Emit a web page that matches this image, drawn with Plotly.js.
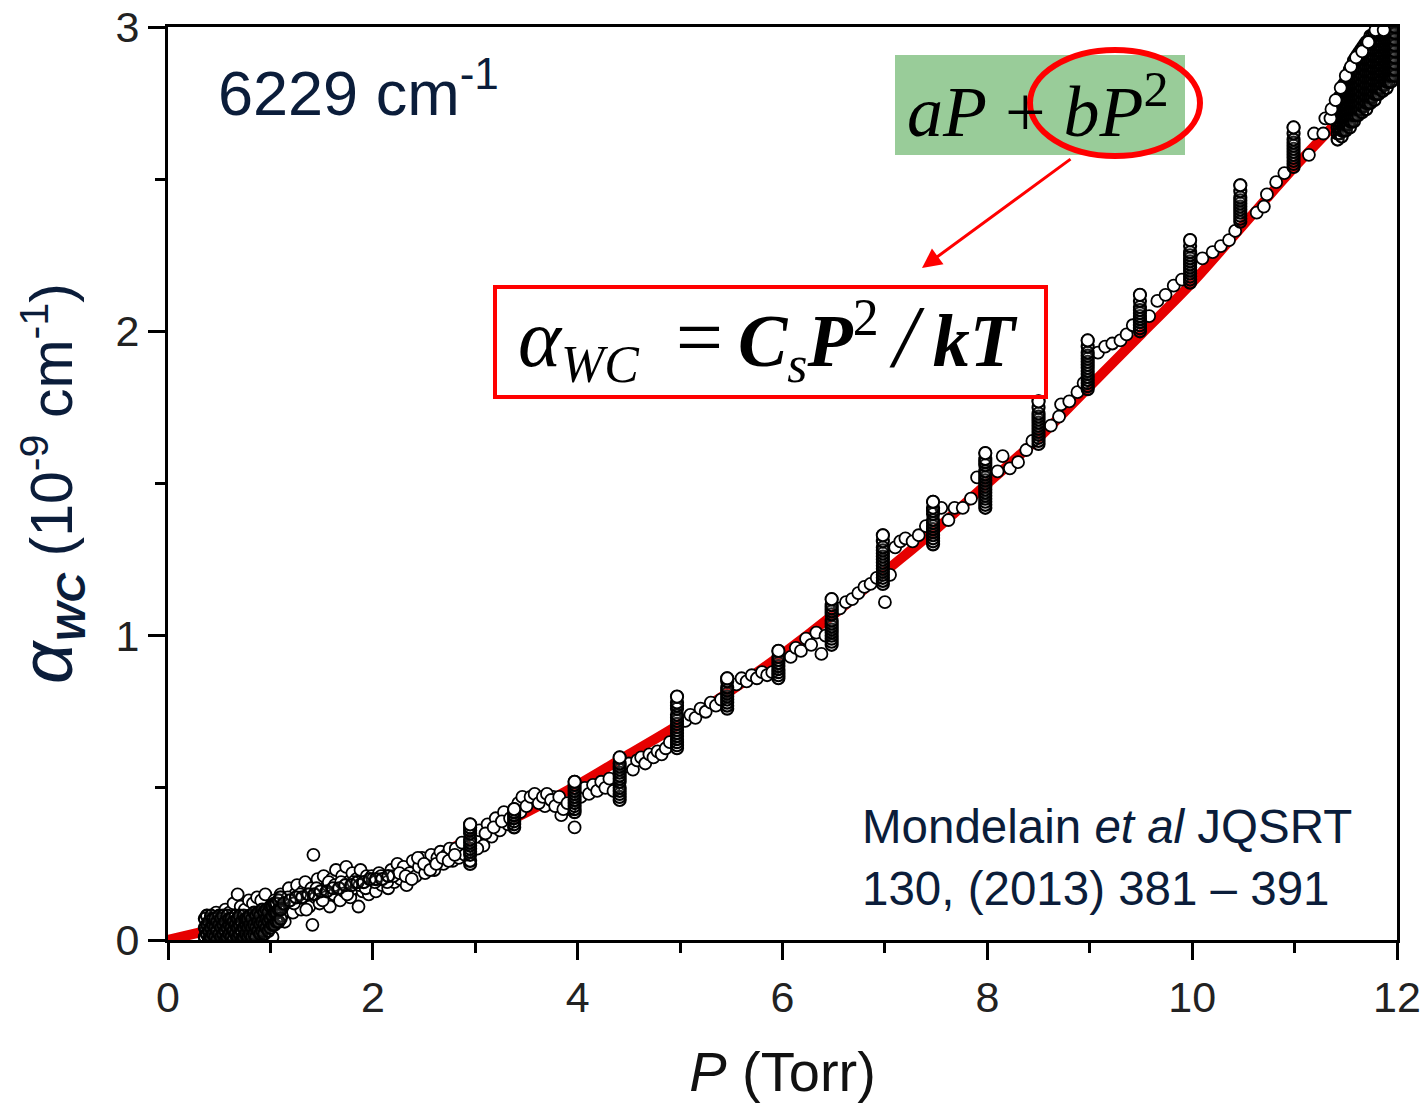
<!DOCTYPE html>
<html>
<head>
<meta charset="utf-8">
<script src="https://cdn.plot.ly/plotly-3.0.1.min.js"></script>
<style>html,body{margin:0;padding:0;background:#fff;}#chart{width:1427px;height:1103px;}</style>
</head>
<body>
<div id="chart"></div>
<script>
// ---- Fitted curve aP + bP^2 ----
const fitP     = [0, 0.5, 1, 1.5, 2, 2.5, 3, 3.5, 4, 4.5, 5, 5.5, 6, 6.5, 7, 7.5, 8, 8.5, 9, 9.5, 10, 10.5, 11, 11.5, 12];
const fitAlpha = [0, 0.04, 0.08, 0.14, 0.20, 0.26, 0.34, 0.42, 0.51, 0.61, 0.71, 0.82, 0.94, 1.07, 1.21, 1.35, 1.50, 1.65, 1.82, 1.99, 2.16, 2.35, 2.54, 2.72, 2.92];

// ---- Measured points (P in Torr, alpha in 1e-9 cm-1), read from the figure ----
// dense block at the lowest pressures (columns of overlapping circles)
const lowP = [0.36,0.38,0.40,0.42,0.44,0.46,0.48,0.50,0.52,0.54,0.56,0.58,0.60,0.62,0.64,0.66,0.68,0.70,0.72,
              0.74,0.76,0.78,0.80,0.82,0.84,0.86,0.88,0.90,0.92,0.94,0.96,0.98,1.00,1.02,1.04,1.06,1.08,1.10];
const lowAlpha = [[0.01,0.04,0.07],[0.02,0.05,0.08],[0.00,0.03,0.06],[0.01,0.04,0.08],[0.02,0.05,0.07],[0.01,0.04,0.07],
                  [0.00,0.03,0.06],[0.02,0.05,0.08],[0.01,0.04,0.07],[0.02,0.05,0.08],[0.00,0.03,0.06],[0.01,0.04,0.08],
                  [0.02,0.05,0.07],[0.01,0.04,0.07],[0.00,0.03,0.06],[0.02,0.05,0.08],[0.01,0.04,0.07],[0.02,0.05,0.08],
                  [0.00,0.03,0.06],[0.01,0.04,0.08],[0.02,0.05,0.07],[0.01,0.04,0.07],[0.02,0.05,0.08],[0.01,0.04,0.07],
                  [0.02,0.05,0.09],[0.01,0.04,0.08],[0.03,0.06,0.09],[0.02,0.05,0.08],[0.03,0.06,0.10],[0.02,0.05,0.09],
                  [0.04,0.07,0.10],[0.03,0.06,0.09],[0.04,0.07,0.11],[0.05,0.08,0.11],[0.05,0.09,0.12],[0.06,0.09,0.12],
                  [0.06,0.10,0.13],[0.07,0.10,0.14]];

// individual points between the pressure steps
const pA = [0.36,0.37,0.38,0.39,0.40,0.41,0.42,0.43,0.44,0.45,0.46,0.47,0.48,0.49,0.50,0.51,0.52,0.53,0.54,0.55,0.56,0.57,0.58,0.59,0.60,0.61,0.62,0.63,0.64,0.65,0.66,0.67,0.68,0.69,0.70,0.72,0.74,0.76,0.78,0.80,0.82,0.84,0.86,0.88,0.90,0.92,0.94,0.96,0.98,1.00,
            0.38,0.42,0.47,0.52,0.56,0.60,0.64,0.68,0.71,0.75,0.79,0.83,0.87,0.91,0.95,0.99,1.02,0.93,0.85,0.77];
const aA = [0.01,0.03,0.02,0.05,0.01,0.04,0.02,0.06,0.03,0.01,0.05,0.02,0.04,0.07,0.02,0.03,0.05,0.01,0.06,0.03,0.04,0.02,0.07,0.05,0.03,0.06,0.02,0.04,0.08,0.05,0.03,0.07,0.04,0.06,0.09,0.05,0.07,0.04,0.08,0.06,0.09,0.07,0.10,0.06,0.08,0.11,0.07,0.09,0.12,0.08,
            0.08,0.07,0.09,0.08,0.10,0.09,0.12,0.15,0.11,0.10,0.13,0.12,0.14,0.13,0.15,0.10,0.01,0.03,0.02,0.01];

const pB = [1.02,1.04,1.06,1.08,1.10,1.12,1.14,1.16,1.18,1.20,1.22,1.24,1.26,1.28,1.30,1.32,1.34,1.36,1.38,1.40,1.42,1.41,
            1.44,1.46,1.48,1.50,1.52,1.54,1.56,1.58,1.60,1.62,1.64,1.66,1.68,1.70,1.72,1.74,1.76,1.78,1.80,1.82,1.84,1.86,1.88,1.90,1.92,1.94,1.96,1.98,
            1.05,1.11,1.17,1.23,1.29,1.35,1.45,1.51,1.57,1.63,1.69,1.75,1.81,1.87,1.93,1.99];
const aB = [0.09,0.13,0.07,0.11,0.15,0.10,0.06,0.13,0.17,0.11,0.09,0.15,0.18,0.12,0.10,0.16,0.19,0.13,0.11,0.17,0.28,0.05,
            0.14,0.20,0.12,0.16,0.21,0.14,0.18,0.11,0.20,0.15,0.23,0.17,0.13,0.21,0.16,0.24,0.19,0.14,0.22,0.17,0.20,0.11,0.23,0.16,0.19,0.21,0.15,0.18,
            0.12,0.08,0.14,0.12,0.15,0.10,0.17,0.13,0.19,0.18,0.19,0.15,0.19,0.18,0.17,0.21];
// darker core of the 1 - 2 Torr band
const pBcore = [1.13,1.19,1.25,1.31,1.37,1.43,1.49,1.55,1.61,1.67,1.73,1.79,1.85,1.91,1.97,2.03,2.09,2.15];
const aBcore = [0.12,0.13,0.14,0.14,0.15,0.15,0.16,0.16,0.17,0.17,0.18,0.18,0.19,0.19,0.20,0.20,0.20,0.21];

const pC = [2.00,2.03,2.06,2.09,2.12,2.15,2.18,2.21,2.24,2.27,2.30,2.33,2.36,2.39,2.42,2.45,2.48,2.51,2.54,2.57,2.60,2.63,2.66,2.69,2.72,2.75,2.78,2.81,2.84,2.87,2.90,
            2.02,2.08,2.14,2.20,2.26,2.32,2.38,2.44,2.50,2.56,2.62,2.68,2.74,2.80];
const aC = [0.20,0.16,0.22,0.18,0.21,0.17,0.23,0.19,0.25,0.20,0.24,0.18,0.22,0.26,0.21,0.24,0.27,0.22,0.25,0.28,0.23,0.27,0.29,0.25,0.28,0.30,0.26,0.30,0.27,0.32,0.28,
            0.19,0.21,0.19,0.21,0.22,0.21,0.20,0.27,0.25,0.23,0.25,0.27,0.26,0.28];

const pD = [3.00,3.04,3.08,3.12,3.16,3.20,3.24,3.28,3.32,
            3.02,3.10,3.18,3.26,3.34,3.44,3.52,3.60,3.68,3.76,3.84,3.92,
            3.42,3.46,3.50,3.54,3.58,3.62,3.66,3.70,3.74,3.78,3.82,3.86,3.90, 3.97];
const aD = [0.33,0.36,0.31,0.38,0.34,0.40,0.36,0.42,0.38,
            0.30,0.35,0.37,0.39,0.40,0.42,0.46,0.47,0.44,0.47,0.41,0.43,
            0.45,0.47,0.44,0.47,0.48,0.45,0.47,0.48,0.46,0.44,0.47,0.43,0.45, 0.37];

const pE = [4.03,4.07,4.11,4.15,4.19,4.23,4.27,4.31,4.35,
            4.46,4.50,4.54,4.58,4.62,4.66,4.70,4.74,4.78,4.82,4.86,4.90,
            5.05,5.10,5.15,5.20,5.25,5.30,5.35,5.40,
            5.55,5.60,5.65,5.70,5.75,5.80,5.85,5.90];
const aE = [0.47,0.50,0.48,0.51,0.49,0.52,0.50,0.53,0.49,
            0.57,0.58,0.56,0.59,0.60,0.58,0.61,0.60,0.62,0.61,0.63,0.65,
            0.72,0.74,0.73,0.76,0.75,0.78,0.77,0.79,
            0.84,0.86,0.85,0.87,0.86,0.88,0.87,0.88];

const pG = [6.08,6.13,6.18,6.23,6.28,6.33,6.38,6.42,
            6.56,6.62,6.68,6.74,6.80,6.86,6.92, 7.00,
            7.05,7.10,7.15,7.20,7.27,7.33,7.40,
            7.55,7.62,7.68,7.76,7.84,7.90];
const aG = [0.93,0.96,0.95,0.99,0.97,1.01,0.94,1.00,
            1.09,1.11,1.12,1.14,1.16,1.17,1.19, 1.11,
            1.20,1.29,1.31,1.32,1.31,1.33,1.36,
            1.42,1.38,1.42,1.42,1.45,1.52];

const pK = [8.10,8.15,8.22,8.30,8.38,8.44,
            8.62,8.70,8.72,8.80,8.88,8.94,
            9.08,9.15,9.22,9.30,9.36,9.42,
            9.58,9.66,9.74,9.82,9.90,
            10.10,10.20,10.28,10.36,10.42,
            10.63,10.70,10.73,10.82,10.90,
            11.14,11.19,11.28];
const aK = [1.54,1.59,1.55,1.57,1.61,1.64,
            1.69,1.72,1.76,1.77,1.80,1.83,
            1.93,1.95,1.96,1.97,1.99,2.02,
            2.05,2.10,2.12,2.15,2.17,
            2.24,2.26,2.28,2.30,2.33,
            2.39,2.41,2.45,2.49,2.52,
            2.58,2.65,2.65];

// vertical stacks recorded at each pressure step
const stackP = [2.95, 3.38, 3.97, 4.41, 4.97, 5.46, 5.96, 6.48, 6.98, 7.47, 7.98, 8.50, 8.98, 9.49, 9.98, 10.47, 10.99];
const stackAlpha = [
  [0.25,0.26,0.28,0.29,0.30,0.31,0.32,0.33,0.35,0.36,0.37,0.38],
  [0.37,0.38,0.39,0.40,0.41,0.42,0.43],
  [0.42,0.43,0.44,0.45,0.46,0.47,0.48,0.49,0.50,0.51,0.52],
  [0.46,0.47,0.48,0.49,0.50,0.52,0.53,0.54,0.55,0.56,0.57,0.58,0.60],
  [0.63,0.64,0.65,0.66,0.67,0.68,0.69,0.70,0.71,0.72,0.73,0.74,0.76,0.77,0.78,0.80],
  [0.76,0.77,0.78,0.79,0.80,0.81,0.82,0.83,0.85,0.86],
  [0.86,0.87,0.88,0.89,0.90,0.91,0.92,0.93,0.95],
  [0.97,0.98,0.99,1.00,1.01,1.02,1.03,1.04,1.05,1.07,1.08,1.09,1.10,1.12],
  [1.17,1.18,1.19,1.20,1.21,1.22,1.23,1.24,1.25,1.26,1.27,1.28,1.29,1.31,1.33],
  [1.30,1.31,1.32,1.33,1.34,1.35,1.36,1.37,1.38,1.40,1.41,1.42,1.44],
  [1.42,1.43,1.44,1.45,1.46,1.47,1.48,1.49,1.50,1.51,1.52,1.53,1.54,1.56,1.57,1.58,1.60],
  [1.63,1.64,1.65,1.66,1.67,1.68,1.69,1.70,1.71,1.72,1.73,1.75,1.77],
  [1.81,1.82,1.83,1.84,1.85,1.86,1.87,1.88,1.89,1.90,1.91,1.92,1.93,1.95,1.97],
  [2.00,2.01,2.02,2.03,2.04,2.05,2.06,2.07,2.08,2.10,2.12],
  [2.16,2.17,2.18,2.19,2.20,2.21,2.22,2.23,2.24,2.25,2.26,2.28,2.30],
  [2.36,2.37,2.38,2.39,2.40,2.41,2.42,2.43,2.44,2.46,2.48],
  [2.54,2.55,2.56,2.57,2.58,2.59,2.60,2.61,2.62,2.63,2.65,2.67]
];
// the open circle visible on top of each stack
const stackTopAlpha = [0.38,0.43,0.52,0.60,0.80,0.86,0.95,1.12,1.33,1.44,1.60,1.77,1.97,2.12,2.30,2.48,2.67];

// dense cluster at 11.4 - 12 Torr (columns of overlapping circles)
const clusterP = [11.42,11.44,11.46,11.48,11.50,11.52,11.54,11.56,11.58,11.60,11.62,11.64,11.66,11.68,11.70,
                  11.72,11.74,11.76,11.78,11.80,11.82,11.84,11.86,11.88,11.90,11.92,11.94,11.96,11.98];
const clusterAlpha = [
  [2.63,2.65,2.67,2.69,2.71,2.73,2.75],[2.65,2.67,2.69,2.71,2.73,2.75,2.77],[2.64,2.66,2.68,2.70,2.72,2.74,2.76,2.78,2.80],
  [2.66,2.68,2.70,2.72,2.74,2.76,2.78,2.81],[2.66,2.68,2.70,2.72,2.74,2.76,2.78,2.80,2.82],[2.68,2.70,2.72,2.74,2.76,2.78,2.80,2.82,2.84],
  [2.67,2.69,2.71,2.73,2.75,2.77,2.79,2.81,2.83,2.86],[2.69,2.71,2.73,2.75,2.77,2.79,2.81,2.83,2.85,2.87],
  [2.69,2.71,2.73,2.75,2.77,2.79,2.81,2.83,2.85,2.87,2.89],[2.71,2.73,2.75,2.77,2.79,2.81,2.83,2.85,2.87,2.90],
  [2.71,2.73,2.75,2.77,2.79,2.81,2.83,2.85,2.87,2.89,2.91],[2.73,2.75,2.77,2.79,2.81,2.83,2.85,2.87,2.89,2.92],
  [2.72,2.74,2.76,2.78,2.80,2.82,2.84,2.86,2.88,2.90,2.93],[2.74,2.76,2.78,2.80,2.82,2.84,2.86,2.88,2.90,2.92,2.94],
  [2.73,2.75,2.77,2.79,2.81,2.83,2.85,2.87,2.89,2.91,2.93,2.95],[2.75,2.77,2.79,2.81,2.83,2.85,2.87,2.89,2.91,2.93,2.95],
  [2.75,2.77,2.79,2.81,2.83,2.85,2.87,2.89,2.91,2.93,2.95,2.97],[2.77,2.79,2.81,2.83,2.85,2.87,2.89,2.91,2.93,2.95,2.97],
  [2.76,2.78,2.80,2.82,2.84,2.86,2.88,2.90,2.92,2.94,2.96,2.98],[2.78,2.80,2.82,2.84,2.86,2.88,2.90,2.92,2.94,2.96,2.98],
  [2.78,2.80,2.82,2.84,2.86,2.88,2.90,2.92,2.94,2.96,2.99],[2.80,2.82,2.84,2.86,2.88,2.90,2.92,2.94,2.96,2.98,3.00],
  [2.79,2.81,2.83,2.85,2.87,2.89,2.91,2.93,2.95,2.97,2.99],[2.81,2.83,2.85,2.87,2.89,2.91,2.93,2.95,2.97,3.00],
  [2.80,2.82,2.84,2.86,2.88,2.90,2.92,2.94,2.96,2.98,3.00],[2.82,2.84,2.86,2.88,2.90,2.92,2.94,2.96,2.98],
  [2.82,2.84,2.86,2.88,2.90,2.92,2.94,2.96,2.98,3.00],[2.84,2.86,2.88,2.90,2.92,2.94,2.96,2.98,3.00],
  [2.84,2.86,2.88,2.90,2.92,2.94,2.96,2.98,3.00]
];
// open circles along the upper edge of the cluster
const edgeP     = [11.30,11.35,11.36,11.40,11.45,11.50,11.55,11.60,11.66,11.72,11.79,11.87];
const edgeAlpha = [2.70,2.70,2.73,2.76,2.80,2.84,2.87,2.90,2.92,2.95,2.99,2.99];

const xTickVals = [0, 2, 4, 6, 8, 10, 12];
const yTickVals = [0, 1, 2, 3];

// ---- assemble the point lists (library scales place every mark) ----
function expand(ps, rows) {
  const xs = [], ys = [];
  ps.forEach((p, i) => rows[i].forEach(a => { xs.push(p); ys.push(a); }));
  return [xs, ys];
}
const [lowX, lowY] = expand(lowP, lowAlpha);
const [stkX, stkY] = expand(stackP, stackAlpha);
const [cluX, cluY] = expand(clusterP, clusterAlpha);
const openP     = [].concat(pA, pB, pC, pD, pE, pG, pK);
const openAlpha = [].concat(aA, aB, aC, aD, aE, aG, aK);
const denseP     = [].concat(lowX, pBcore, stkX, cluX);
const denseAlpha = [].concat(lowY, aBcore, stkY, cluY);
const topP     = [].concat(stackP, edgeP);
const topAlpha = [].concat(stackTopAlpha, edgeAlpha);

// ---- layout geometry helpers (pixel -> paper) ----
const W = 1427, H = 1103, ML = 168, MR = 30, MT = 27, MB = 163;
const fx = x => (x - ML) / (W - ML - MR);
const fy = y => (H - MB - y) / (H - MT - MB);

const navy = '#0b1d3a';
const sans = 'Liberation Sans, Arial, sans-serif';
const serif = 'Liberation Serif, Times New Roman, serif';

const openMarker = {symbol: 'circle', size: 12, color: '#ffffff', line: {color: '#000000', width: 1.8}};
const traces = [
  {x: fitP, y: fitAlpha, type: 'scatter', mode: 'lines',
   line: {color: '#e60000', width: 10, shape: 'spline'}, hoverinfo: 'skip', showlegend: false},
  {x: openP, y: openAlpha, type: 'scatter', mode: 'markers', marker: openMarker, showlegend: false},
  {x: denseP, y: denseAlpha, type: 'scatter', mode: 'markers',
   marker: {symbol: 'circle', size: 12, color: 'rgba(255,255,255,0.06)', line: {color: '#000000', width: 2.2}}, showlegend: false},
  {x: topP, y: topAlpha, type: 'scatter', mode: 'markers', marker: openMarker, showlegend: false}
];

const axisCommon = {
  showgrid: false, zeroline: false,
  showline: true, linecolor: '#000', linewidth: 3, mirror: true,
  ticks: 'outside', ticklen: 17, tickwidth: 3, tickcolor: '#000',
  tickfont: {family: sans, size: 43, color: '#222'}
};

const layout = {
  width: W, height: H,
  margin: {l: ML, r: MR, t: MT, b: MB, pad: 0},
  paper_bgcolor: '#fff', plot_bgcolor: '#fff',
  showlegend: false,
  xaxis: Object.assign({}, axisCommon, {
    range: [0, 12], tickvals: xTickVals, ticktext: xTickVals.map(String),
    minor: {dtick: 1, ticklen: 10, tickwidth: 3, tickcolor: '#000', ticks: 'outside'},
    title: {text: '<i>P</i> (Torr)', font: {family: sans, size: 56, color: '#111'}, standoff: 34}
  }),
  yaxis: Object.assign({}, axisCommon, {
    range: [0, 3], tickvals: yTickVals, ticktext: yTickVals.map(String),
    minor: {dtick: 0.5, ticklen: 10, tickwidth: 3, tickcolor: '#000', ticks: 'outside'},
    title: {text: '<span style="font-size:74px"><i>α</i></span><sub><b><i>WC</i></b></sub> (10<sup>-9</sup> cm<sup>-1</sup>)',
            font: {family: sans, size: 59, color: navy}, standoff: 24}
  }),
  shapes: [
    {type: 'rect', xref: 'paper', yref: 'paper', x0: fx(895), x1: fx(1185), y0: fy(155), y1: fy(55),
     fillcolor: '#99cc99', line: {width: 0}},
    {type: 'rect', xref: 'paper', yref: 'paper', x0: fx(495), x1: fx(1046), y0: fy(397), y1: fy(287),
     fillcolor: 'rgba(255,255,255,0)', line: {color: '#ff0000', width: 4}},
    {type: 'circle', xref: 'paper', yref: 'paper', x0: fx(1030), x1: fx(1200), y0: fy(156), y1: fy(50),
     line: {color: '#ff0000', width: 6}, fillcolor: 'rgba(0,0,0,0)'}
  ],
  annotations: [
    {xref: 'paper', yref: 'paper', x: fx(216), y: fy(89), xanchor: 'left', yanchor: 'middle', showarrow: false,
     text: '6229 cm<sup>-1</sup>', font: {family: sans, size: 63, color: navy}},
    {xref: 'paper', yref: 'paper', x: fx(1038), y: fy(106), xanchor: 'center', yanchor: 'middle', showarrow: false,
     text: '<i>aP</i> + <i>bP</i><sup>2</sup>', font: {family: serif, size: 72, color: '#000'}},
    {xref: 'paper', yref: 'paper', x: fx(768), y: fy(340), xanchor: 'center', yanchor: 'middle', showarrow: false,
     text: '<span style="font-size:82px"><i>α</i></span><sub><i>WC</i></sub>\u2002<span style="font-size:84px">=</span>\u2009<b><i>C</i></b><sub><i>s</i></sub><b><i>P</i></b><sup>2</sup>\u2009<span style="font-size:88px"><i>/</i></span>\u2009<b><i>kT</i></b>',
     font: {family: serif, size: 74, color: '#000'}},
    {xref: 'paper', yref: 'paper', x: fx(922), y: fy(268), showarrow: true, text: '',
     ax: 150, ay: -110, arrowcolor: '#ff0000', arrowwidth: 3, arrowhead: 2, arrowsize: 1.3},
    {xref: 'paper', yref: 'paper', x: fx(860), y: fy(857), xanchor: 'left', yanchor: 'middle', align: 'left', showarrow: false,
     text: 'Mondelain <i>et al</i> JQSRT<br>130, (2013) 381 – 391', font: {family: sans, size: 47.5, color: navy}}
  ]
};

Plotly.newPlot('chart', traces, layout, {displayModeBar: false, staticPlot: true});
</script>
</body>
</html>
